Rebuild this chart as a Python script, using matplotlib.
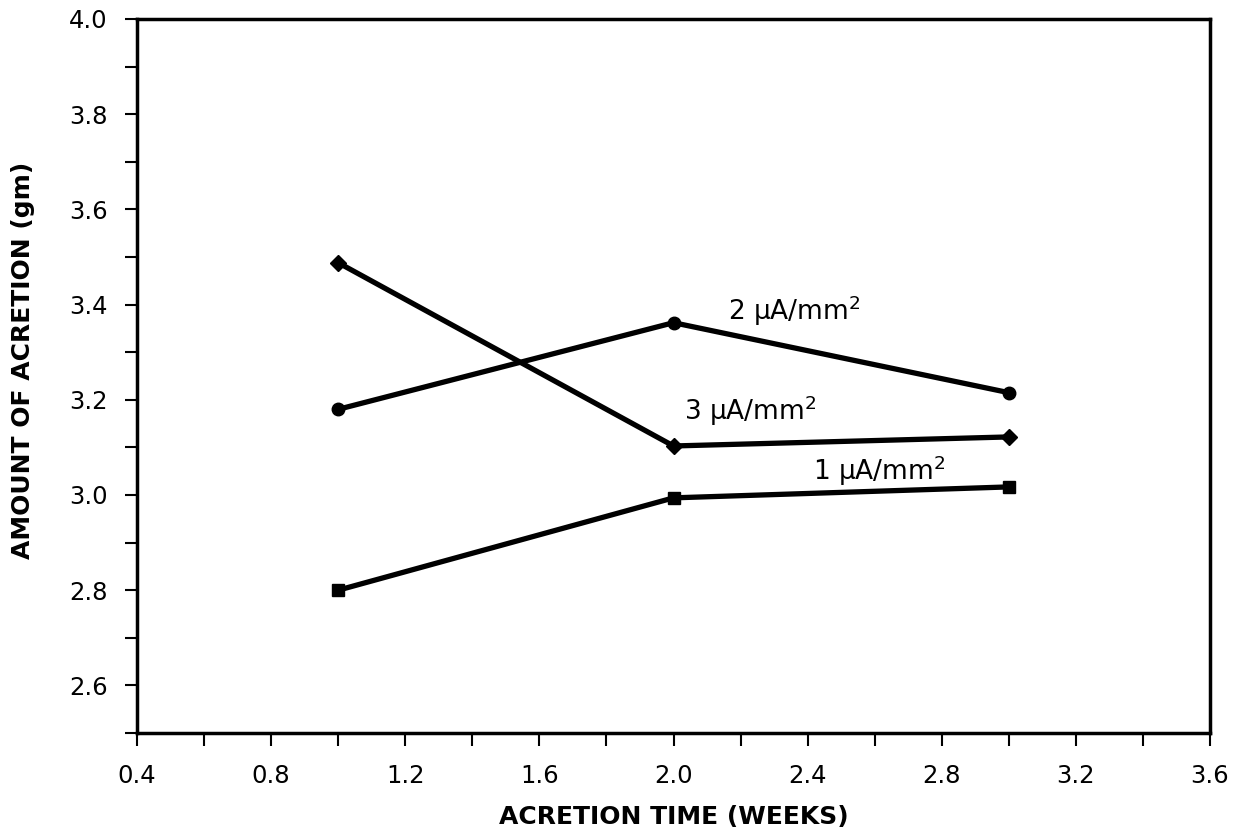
import matplotlib
matplotlib.use("Agg")
import matplotlib.pyplot as plt
from matplotlib.ticker import FixedLocator

plt.rcParams['font.family'] = ['DejaVu Sans']
plt.rcParams['mathtext.fontset'] = 'dejavusans'

weeks = [1.0, 2.0, 3.0]
i1 = [2.80, 2.994, 3.017]
i2 = [3.18, 3.362, 3.215]
i3 = [3.488, 3.103, 3.122]
labels = ["1 μA/mm$^2$", "2 μA/mm$^2$", "3 μA/mm$^2$"]

fig = plt.figure(figsize=(12.39, 8.39), dpi=100)
ax = fig.add_axes([137/1239, 1 - 733/839, (1210-137)/1239, (733-19)/839])

lw = 3.8
ax.plot(weeks, i1, color='black', lw=lw, marker='s', ms=9)
ax.plot(weeks, i2, color='black', lw=lw, marker='o', ms=9)
ax.plot(weeks, i3, color='black', lw=lw, marker='D', ms=8)

fs = 17.5
lfs = 19
ax.text(2.415, 3.05, labels[0], fontsize=lfs, va='center', ha='left')
ax.text(2.164, 3.387, labels[1], fontsize=lfs, va='center', ha='left')
ax.text(2.03, 3.177, labels[2], fontsize=lfs, va='center', ha='left')

ax.set_xlim(0.4, 3.6)
ax.set_ylim(2.5, 4.0)
ax.xaxis.set_major_locator(FixedLocator([0.4, 0.8, 1.2, 1.6, 2.0, 2.4, 2.8, 3.2, 3.6]))
ax.xaxis.set_minor_locator(FixedLocator([0.6, 1.0, 1.4, 1.8, 2.2, 2.6, 3.0, 3.4]))
ax.yaxis.set_major_locator(FixedLocator([2.6, 2.8, 3.0, 3.2, 3.4, 3.6, 3.8, 4.0]))
ax.yaxis.set_minor_locator(FixedLocator([2.5, 2.7, 2.9, 3.1, 3.3, 3.5, 3.7, 3.9]))
ax.xaxis.set_major_formatter(plt.FuncFormatter(lambda v, p: f"{v:.1f}"))
ax.yaxis.set_major_formatter(plt.FuncFormatter(lambda v, p: f"{v:.1f}"))

ax.tick_params(axis='both', which='both', direction='out', length=9, width=1.5, labelsize=fs)
ax.tick_params(axis='x', which='both', pad=13)
ax.tick_params(axis='y', which='both', pad=12)
for s in ax.spines.values():
    s.set_linewidth(2.5)

ax.set_xlabel("ACRETION TIME (WEEKS)", fontsize=18, fontweight='bold')
ax.set_ylabel("AMOUNT OF ACRETION (gm)", fontsize=18, fontweight='bold')
ax.xaxis.set_label_coords(0.5, -(817 - 733) / (733 - 19), transform=ax.transAxes)
ax.yaxis.set_label_coords(-(137 - 23) / (1210 - 137), (733 - 360) / (733 - 19), transform=ax.transAxes)
ax.xaxis.label.set_va('center')
ax.yaxis.label.set_va('center')

fig.savefig("out.png", dpi=100)
